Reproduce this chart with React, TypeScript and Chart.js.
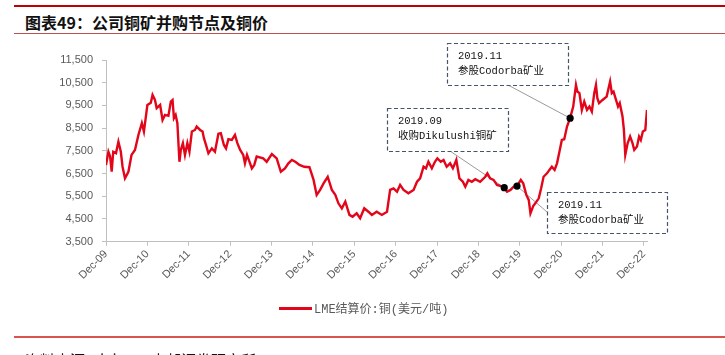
import React, { useEffect, useRef } from "react";
import { Chart, registerables } from "chart.js";

Chart.register(...registerables);

// ---- data ----
const yearLabels = [
  "Dec-09", "Dec-10", "Dec-11", "Dec-12", "Dec-13", "Dec-14", "Dec-15",
  "Dec-16", "Dec-17", "Dec-18", "Dec-19", "Dec-20", "Dec-21", "Dec-22",
];

// months elapsed since Dec-09
const months = [
  0, 0.7, 1.2, 1.65, 2.1, 2.9, 3.6, 4.3, 4.8, 5.5, 6.5, 7.4, 8.4, 9.4, 10.4, 11.0,
  12.0, 13.0, 13.5, 14.2, 14.7, 15.7, 16.4, 17.1, 18.1, 18.8, 19.3, 19.7, 20.2, 20.7,
  21.3, 21.7, 22.3, 22.9, 23.6, 24.2, 24.9, 25.8, 26.3, 27.3, 28.0, 28.4, 29.0, 29.7,
  30.7, 31.6, 32.6, 33.3, 34.2, 34.8, 35.5, 36.5, 37.4, 38.1, 38.9, 39.8, 40.3, 40.9,
  42.3, 43.0, 43.7, 45.6, 46.6, 48.1, 49.5, 50.7, 51.9, 52.9, 53.9, 54.9, 56.1, 57.5,
  59.0, 60.2, 61.1, 62.1, 63.1, 64.3, 65.5, 66.5, 67.4, 68.4, 69.4, 70.6, 71.5, 72.7,
  73.7, 74.9, 76.1, 77.1, 78.5, 80.0, 81.5, 82.4, 83.4, 84.4, 85.3, 86.3, 87.7, 89.2,
  90.2, 91.1, 92.1, 92.8, 93.5, 94.5, 95.4, 96.1, 97.1, 97.9, 98.8, 99.8, 100.6, 101.6,
  102.5, 103.5, 104.2, 105.1, 106.1, 107.1, 108.5, 110.0, 110.6, 111.4, 112.4, 113.4,
  114.5, 115.5, 116.3, 117.3, 118.2, 119.2, 120.3, 121.0, 121.9, 122.6, 123.1, 123.9,
  124.5, 125.5, 126.2, 126.9, 127.9, 128.6, 129.3, 130.1, 130.8, 131.5, 132.2, 132.9,
  133.7, 134.6, 135.5, 136.3, 136.7, 137.3, 138.0, 138.7, 139.5, 140.2, 140.9, 141.6,
  142.1, 142.5, 143.0, 144.0, 145.2, 146.2, 146.7, 147.2, 148.5, 149.0, 149.8, 150.2,
  150.6, 151.3, 152.0, 152.7, 153.2, 154.0, 154.6, 155.1, 155.7, 156.4, 156.9,
];

// LME settlement price, copper (USD/t)
const prices = [
  6880, 7460, 7250, 6580, 7460, 7400, 7900, 7460, 6800, 6290, 6580, 7320, 7540, 8200, 8720, 8350,
  9520, 9620, 9960, 9740, 9380, 9520, 8860, 9080, 9040, 9670, 9740, 8940, 9080, 8720,
  7020, 7540, 7840, 7320, 7840, 7460, 8350, 8420, 8570, 8420, 8350, 8060, 7760, 7390,
  7610, 7460, 8250, 8280, 7760, 7610, 8010, 7980, 8200, 7840, 7540, 7320, 6950, 7320,
  6730, 6880, 7250, 7170, 7020, 7360, 7170, 6580, 6730, 6950, 7100, 7020, 6880, 6800,
  6780, 6220, 5560, 5780, 6070, 6360, 5780, 5560, 5190, 4970, 5260, 4680, 4600, 4750,
  4530, 4970, 4820, 4680, 4820, 4680, 4820, 5780, 5850, 5700, 6000, 5780, 5630, 5780,
  6140, 6290, 6800, 6730, 7020, 6730, 7020, 7170, 7020, 7100, 6800, 6950, 6730, 7100,
  6290, 6140, 5920, 6220, 6140, 6250, 6140, 6360, 6510, 6290, 6220, 6000,
  5950, 5880, 5700, 5780, 5920, 5950, 6220, 6070, 5560, 5340, 4750, 5070,
  5190, 5410, 5850, 6360, 6510, 6660, 6800, 6660, 6950, 7460, 7980, 8010,
  8570, 8940, 9450, 10400, 10110, 10040, 9300, 9670, 9300, 9450, 9230, 10040,
  10400, 9820, 9600, 9740, 9890, 10550, 10040, 10110, 9450, 9600, 9010, 8420,
  7320, 7840, 8130, 7840, 7540, 7690, 8130, 7980, 8350, 8420, 9300,
];

// acquisition milestones
const eventMonths = [115.5, 119.2, 134.6];
const eventPrices = [5880, 5950, 8940];
const eventDates = ["2019.09", "2019.11", "2019.11"];
const eventTexts = ["收购Dikulushi铜矿", "参股Codorba矿业", "参股Codorba矿业"];

const seriesName = "LME结算价:铜(美元/吨)";
const titleText = "图表49：公司铜矿并购节点及铜价";
const sourceText = "资料来源：iFinD，中邮证券研究所";

// ---- callout layout (pixels) ----
const callouts = [
  { x: 387, y: 108, w: 121, h: 43, ax: 450, ay: 151 },
  { x: 547, y: 192, w: 120, h: 41, ax: 547, ay: 212 },
  { x: 447, y: 43, w: 121, h: 42, ax: 508, ay: 85 },
];

const RED = "#E3061A";
const AXIS_GRAY = "#BFBFBF";
const LABEL_GRAY = "#595959";

const calloutPlugin = {
  id: "callouts",
  beforeDatasetsDraw(chart: any) {
    const { ctx, scales } = chart;
    ctx.save();
    ctx.strokeStyle = "#808080";
    ctx.lineWidth = 0.8;
    callouts.forEach((c, i) => {
      const px = scales.x.getPixelForValue(eventMonths[i]);
      const py = scales.y.getPixelForValue(eventPrices[i]);
      ctx.beginPath();
      ctx.moveTo(c.ax, c.ay);
      ctx.lineTo(px, py);
      ctx.stroke();
    });
    ctx.restore();
  },
  afterDatasetsDraw(chart: any) {
    const { ctx } = chart;
    ctx.save();
    callouts.forEach((c, i) => {
      ctx.fillStyle = "#FFFFFF";
      ctx.fillRect(c.x, c.y, c.w, c.h);
      ctx.setLineDash([4, 2.5]);
      ctx.strokeStyle = "#44546A";
      ctx.lineWidth = 1.2;
      ctx.strokeRect(c.x + 0.5, c.y + 0.5, c.w, c.h);
      ctx.setLineDash([]);
      ctx.fillStyle = "#111111";
      ctx.font = "10.5px 'Liberation Mono', 'Noto Sans CJK SC', monospace";
      ctx.textBaseline = "middle";
      ctx.textAlign = "left";
      ctx.fillText(eventDates[i], c.x + 11, c.y + 13);
      ctx.fillText(eventTexts[i], c.x + 11, c.y + 28);
    });
    ctx.restore();
  },
};

export default function App() {
  const canvasRef = useRef<HTMLCanvasElement | null>(null);

  useEffect(() => {
    if (!canvasRef.current) return;
    Chart.defaults.font.family = "'Liberation Sans', Arial, sans-serif";
    const lineData = months.map((m, i) => ({ x: m, y: prices[i] }));
    const dotData = eventMonths.map((m, i) => ({ x: m, y: eventPrices[i] }));
    const chart = new Chart(canvasRef.current, {
      type: "line",
      data: {
        datasets: [
          {
            type: "scatter" as any,
            label: "events",
            data: dotData,
            pointRadius: 3.6,
            pointBackgroundColor: "#000000",
            pointBorderColor: "#000000",
            pointBorderWidth: 0,
            order: 0,
          } as any,
          {
            label: seriesName,
            data: lineData,
            borderColor: RED,
            borderWidth: 2.4,
            pointRadius: 0,
            tension: 0,
            fill: false,
            order: 1,
          },
        ],
      },
      options: {
        animation: false,
        responsive: true,
        maintainAspectRatio: false,
        layout: { padding: { top: 60, left: 0, right: 78, bottom: 0 } },
        plugins: {
          legend: { display: false },
          tooltip: { enabled: false },
        },
        scales: {
          x: {
            type: "linear",
            min: 0,
            max: 156.9,
            afterBuildTicks: (scale: any) => {
              scale.ticks = yearLabels.map((_, i) => ({ value: i * 12 }));
            },
            afterFit: (scale: any) => {
              scale.height = 355 - 241.7;
            },
            grid: {
              drawOnChartArea: false,
              drawTicks: true,
              tickLength: 4,
              color: AXIS_GRAY,
            },
            border: { color: AXIS_GRAY, width: 1 },
            ticks: {
              autoSkip: false,
              maxRotation: 45,
              minRotation: 45,
              padding: 2,
              color: LABEL_GRAY,
              font: { size: 11 },
              callback: (v: any) => {
                const idx = Math.round(Number(v) / 12);
                return Number(v) % 12 === 0 ? yearLabels[idx] : "";
              },
            },
          },
          y: {
            min: 3500,
            max: 11500,
            afterFit: (scale: any) => {
              scale.width = 106;
            },
            grid: {
              drawOnChartArea: false,
              drawTicks: true,
              tickLength: 4,
              color: AXIS_GRAY,
            },
            border: { color: AXIS_GRAY, width: 1 },
            ticks: {
              stepSize: 1000,
              padding: 9,
              color: LABEL_GRAY,
              font: { size: 11 },
              callback: (v: any) => Number(v).toLocaleString("en-US"),
            },
          },
        },
      },
      plugins: [calloutPlugin],
    });
    return () => chart.destroy();
  }, []);

  return (
    <div
      style={{
        position: "absolute",
        left: 0,
        top: 0,
        width: 725,
        height: 355,
        overflow: "hidden",
        background: "#ffffff",
      }}
    >
      <div style={{ position: "absolute", left: 14, top: 5, width: 711, height: 2, background: "#C00000" }} />
      <div
        style={{
          position: "absolute",
          left: 25,
          top: 12,
          fontFamily: "'Noto Sans CJK SC', sans-serif",
          fontWeight: 700,
          fontSize: 16,
          lineHeight: "20px",
          color: "#111111",
          whiteSpace: "nowrap",
        }}
      >
        {titleText}
      </div>
      <div style={{ position: "absolute", left: 14, top: 33, width: 711, height: 1, background: "#C0504D" }} />
      <div style={{ position: "absolute", left: 0, top: 0, width: 725, height: 355 }}>
        <canvas ref={canvasRef} />
      </div>
      <div
        style={{
          position: "absolute",
          left: 279,
          top: 300,
          height: 16,
          display: "flex",
          alignItems: "center",
          whiteSpace: "nowrap",
        }}
      >
        <span style={{ display: "inline-block", width: 33, height: 3, background: RED }} />
        <span
          style={{
            marginLeft: 2,
            fontFamily: "'Liberation Mono', 'Noto Sans CJK SC', monospace",
            fontSize: 12,
            color: LABEL_GRAY,
          }}
        >
          {seriesName}
        </span>
      </div>
      <div style={{ position: "absolute", left: 14, top: 336, width: 711, height: 1.5, background: "#D9534F" }} />
      <div
        style={{
          position: "absolute",
          left: 25,
          top: 350,
          fontFamily: "'Noto Sans CJK SC', sans-serif",
          fontSize: 15,
          lineHeight: "20px",
          color: "#111111",
          whiteSpace: "nowrap",
        }}
      >
        {sourceText}
      </div>
    </div>
  );
}
